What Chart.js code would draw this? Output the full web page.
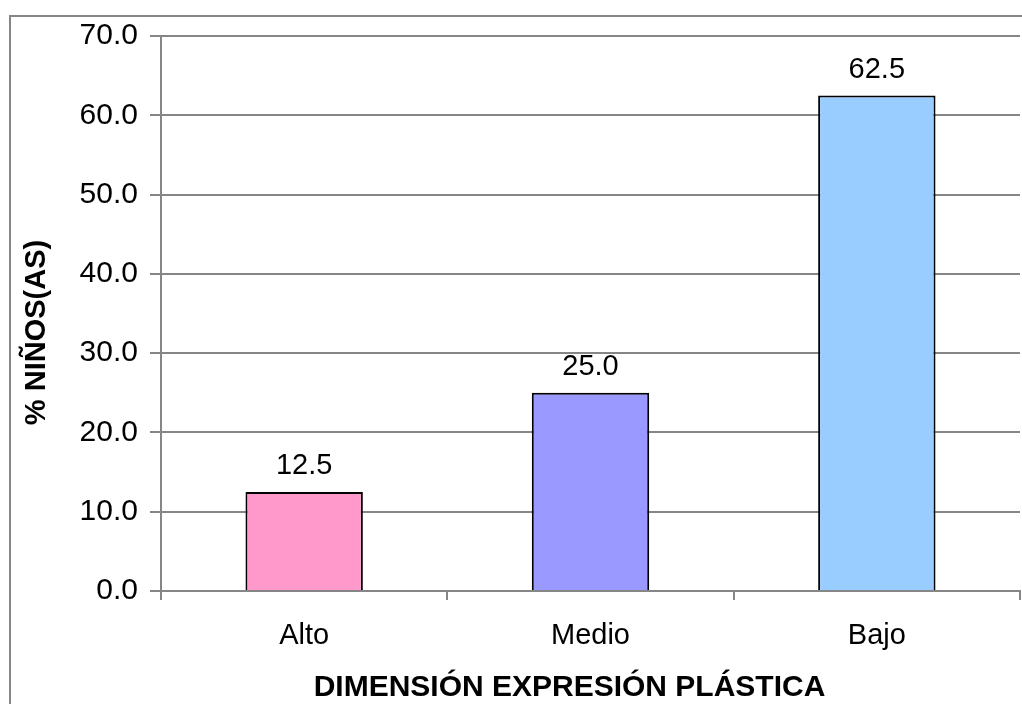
<!DOCTYPE html>
<html>
<head>
<meta charset="utf-8">
<script src="https://cdn.jsdelivr.net/npm/chart.js@4"></script>
<style>
  html, body { margin: 0; padding: 0; background: #fff; }
  canvas { display: block; }
</style>
</head>
<body>
<canvas id="chart" width="1022" height="704"></canvas>
<script>
const categories = ['Alto', 'Medio', 'Bajo'];
const values = [12.5, 25.0, 62.5];
const barColors = ['#FF99CC', '#9999FF', '#99CCFF'];
const yTitle = '% NIÑOS(AS)';
const xTitle = 'DIMENSIÓN EXPRESIÓN PLÁSTICA';

const FONT = "'Liberation Sans', Arial, sans-serif";
const GRID = '#868686';

// outer frame, axis titles and value labels
const extras = {
    id: 'extras',
    beforeDraw(chart) {
        const ctx = chart.ctx;
        ctx.save();
        ctx.strokeStyle = GRID;
        ctx.lineWidth = 2;
        ctx.strokeRect(10, 16, 1200, 900);
        ctx.restore();
    },
    afterDraw(chart) {
        const ctx = chart.ctx;
        const area = chart.chartArea;
        ctx.save();
        ctx.fillStyle = '#000';
        ctx.textAlign = 'center';
        ctx.textBaseline = 'middle';
        ctx.font = 'bold 30px ' + FONT;
        ctx.fillText(xTitle, (area.left + area.right) / 2 - 21, 688);
        ctx.font = 'bold 29px ' + FONT;
        ctx.translate(37, (area.top + area.bottom) / 2 + 19);
        ctx.rotate(-Math.PI / 2);
        ctx.fillText(yTitle, 0, 0);
        ctx.restore();
    },
    afterDatasetsDraw(chart) {
        const ctx = chart.ctx;
        const meta = chart.getDatasetMeta(0);
        ctx.save();
        ctx.font = '29px ' + FONT;
        ctx.fillStyle = '#000';
        ctx.textAlign = 'center';
        ctx.textBaseline = 'bottom';
        meta.data.forEach((bar, i) => {
            ctx.fillText(values[i].toFixed(1), bar.x, bar.y - 11);
        });
        ctx.restore();
    }
};

new Chart(document.getElementById('chart'), {
    type: 'bar',
    data: {
        labels: categories,
        datasets: [{
            data: values,
            backgroundColor: barColors,
            borderColor: '#000',
            borderWidth: 2,
            barPercentage: 0.41,
            categoryPercentage: 1
        }]
    },
    options: {
        responsive: false,
        animation: false,
        devicePixelRatio: 1,
        layout: { padding: { left: 0, top: 36, right: 2, bottom: 0 } },
        plugins: { legend: { display: false }, tooltip: { enabled: false } },
        scales: {
            x: {
                afterFit: s => { s.height = 113; },
                grid: { offset: true, drawOnChartArea: false, color: GRID, lineWidth: 2, tickLength: 9 },
                border: { color: GRID, width: 2 },
                ticks: { color: '#000', font: { family: FONT, size: 29 }, padding: 19 }
            },
            y: {
                min: 0, max: 70,
                afterFit: s => { s.width = 161; },
                grid: { color: GRID, lineWidth: 2, tickLength: 11 },
                border: { color: GRID, width: 2 },
                ticks: { stepSize: 10, color: '#000', font: { family: FONT, size: 30 }, padding: 12,
                    callback: v => v.toFixed(1) }
            }
        }
    },
    plugins: [extras]
});
</script>
</body>
</html>
